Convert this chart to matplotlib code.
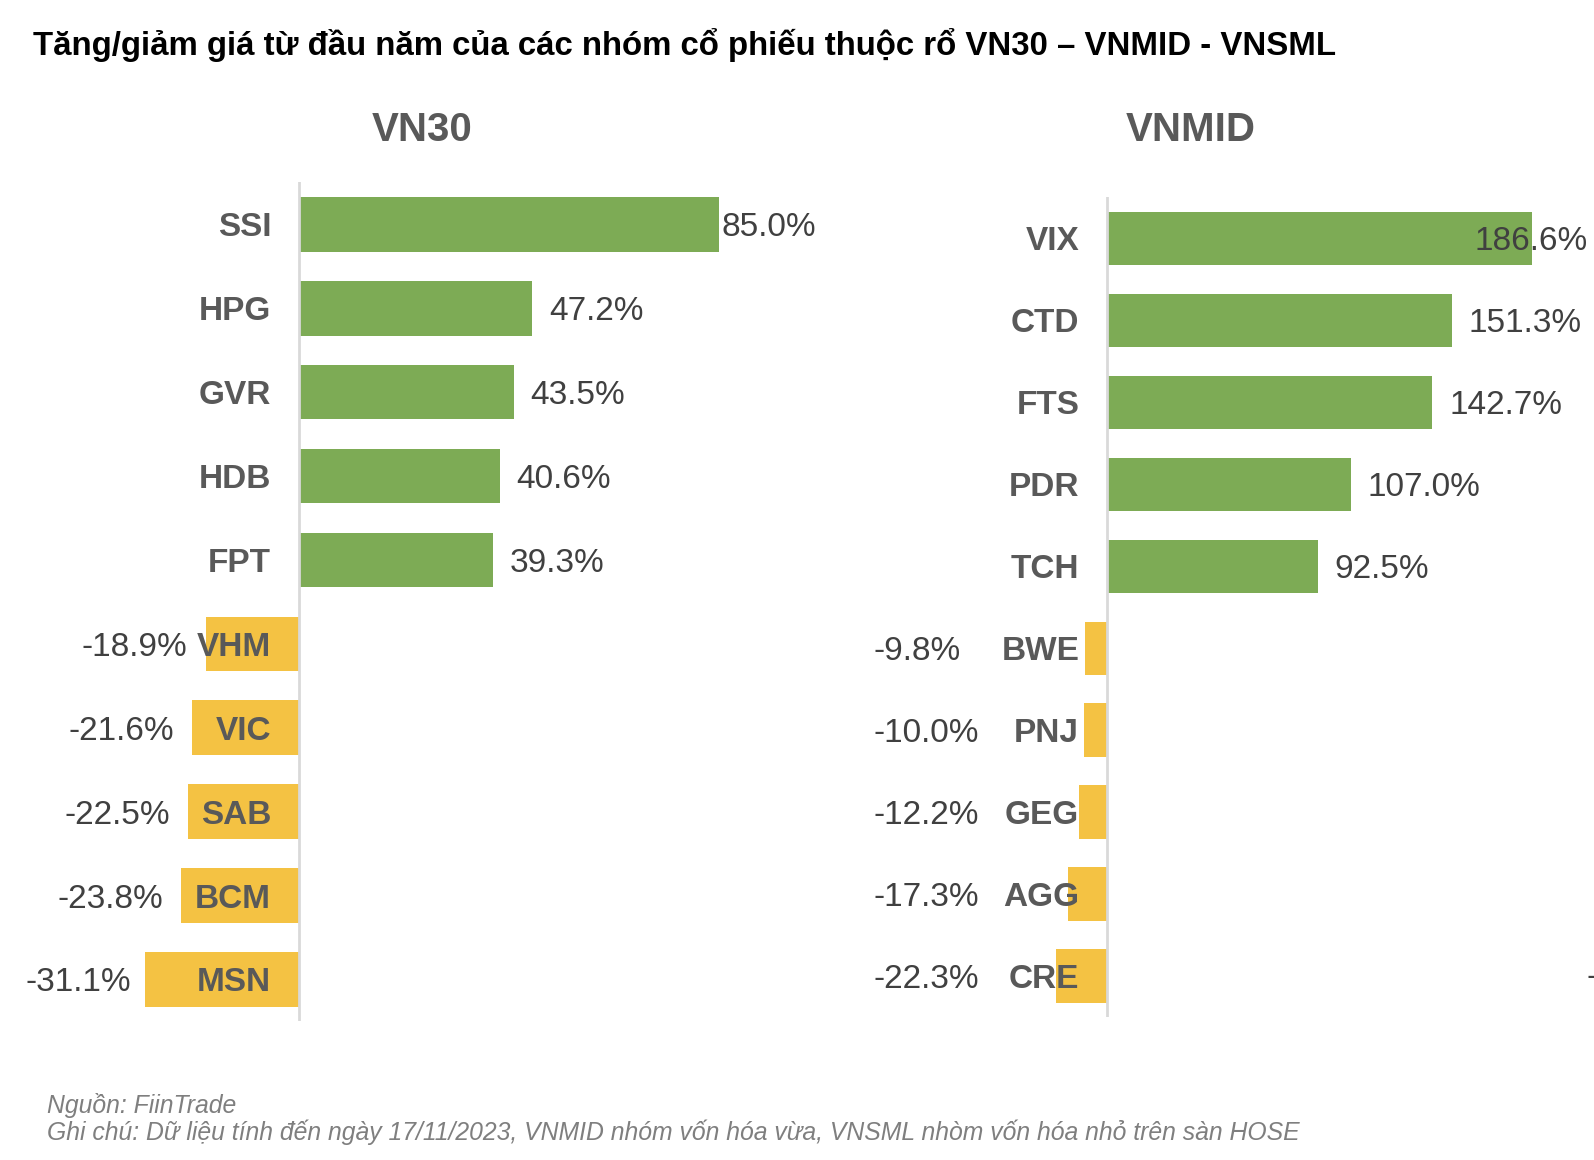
import matplotlib
matplotlib.use("Agg")
import matplotlib.pyplot as plt
from matplotlib.transforms import offset_copy

plt.rcParams['font.family'] = ['Liberation Sans', 'DejaVu Sans']

# data
vn30_tickers = ["SSI", "HPG", "GVR", "HDB", "FPT", "VHM", "VIC", "SAB", "BCM", "MSN"]
vn30_values = [85.0, 47.2, 43.5, 40.6, 39.3, -18.9, -21.6, -22.5, -23.8, -31.1]

vnmid_tickers = ["VIX", "CTD", "FTS", "PDR", "TCH", "BWE", "PNJ", "GEG", "AGG", "CRE"]
vnmid_values = [186.6, 151.3, 142.7, 107.0, 92.5, -9.8, -10.0, -12.2, -17.3, -22.3]

title = "Tăng/giảm giá từ đầu năm của các nhóm cổ phiếu thuộc rổ VN30 – VNMID - VNSML"
source = "Nguồn: FiinTrade"
note = "Ghi chú: Dữ liệu tính đến ngày 17/11/2023, VNMID nhóm vốn hóa vừa, VNSML nhòm vốn hóa nhỏ trên sàn HOSE"

GREEN = "#7DAB55"
YELLOW = "#F4C243"
LABEL = "#595959"
VALUE = "#404040"
DY = -2.5  # nudge text down so it sits centred on the bars

fig = plt.figure(figsize=(15.94, 11.60), dpi=100)


def panel(ax, tickers, values, xlim, pos_off, neg_mode, special=None):
    special = special or {}
    ys = list(range(len(values)))
    colors = [GREEN if v >= 0 else YELLOW for v in values]
    ax.barh(ys, values, height=0.65, color=colors, zorder=2)
    ax.axvline(0, color="#D9D9D9", lw=2, zorder=3)
    ax.set_xlim(*xlim)
    ax.set_ylim(len(values) - 0.5, -0.5)
    ax.axis("off")

    tick_tr = offset_copy(ax.transData, fig=fig, x=-20, y=DY, units="points")
    for y, t in zip(ys, tickers):
        ax.text(0, y, t, transform=tick_tr, ha="right", va="center",
                fontsize=24, fontweight="bold", color=LABEL, zorder=4)

    for y, v in zip(ys, values):
        s = "%.1f%%" % v
        if v >= 0:
            off = special.get(y, pos_off)
            tr = offset_copy(ax.transData, fig=fig, x=off, y=DY, units="points")
            ax.text(v, y, s, transform=tr, ha="left", va="center",
                    fontsize=24, color=VALUE, zorder=4)
        elif neg_mode == "outside":
            off = special.get(y, -13)
            tr = offset_copy(ax.transData, fig=fig, x=off, y=DY, units="points")
            ax.text(v, y, s, transform=tr, ha="right", va="center",
                    fontsize=24, color=VALUE, zorder=4)
        else:
            tr = offset_copy(ax.transData, fig=fig, x=-168, y=DY, units="points")
            ax.text(0, y, s, transform=tr, ha="left", va="center",
                    fontsize=24, color=VALUE, zorder=4)


ax1 = fig.add_axes([0.0, 0.1195, 840 / 1594, 0.7232])
panel(ax1, vn30_tickers, vn30_values, (-60.5, 109.5), 12, "outside",
      special={0: 2, 9: -10})

ax2 = fig.add_axes([840 / 1594, 0.1233, 754 / 1594, 0.7065])
panel(ax2, vnmid_tickers, vnmid_values, (-117.1, 213.6), 12, "fixed",
      special={0: -42})

fig.text(0.2647, 0.888, "VN30", ha="center", va="center",
         fontsize=29, fontweight="bold", color=LABEL)
fig.text(0.747, 0.888, "VNMID", ha="center", va="center",
         fontsize=29, fontweight="bold", color=LABEL)

# cropped third panel hint at the right edge
fig.text(1586 / 1594, 1 - 978 / 1160, "-", ha="left", va="center",
         fontsize=24, color=VALUE)

fig.text(0.0207, 0.961, title, ha="left", va="center",
         fontsize=23.8, fontweight="bold", color="black")

fig.text(0.0295, 0.0474, source, ha="left", va="center",
         fontsize=17.8, style="italic", color="#7F7F7F")
fig.text(0.0295, 0.0237, note, ha="left", va="center",
         fontsize=17.8, style="italic", color="#7F7F7F")

fig.savefig("out.png", dpi=100, facecolor="white")
